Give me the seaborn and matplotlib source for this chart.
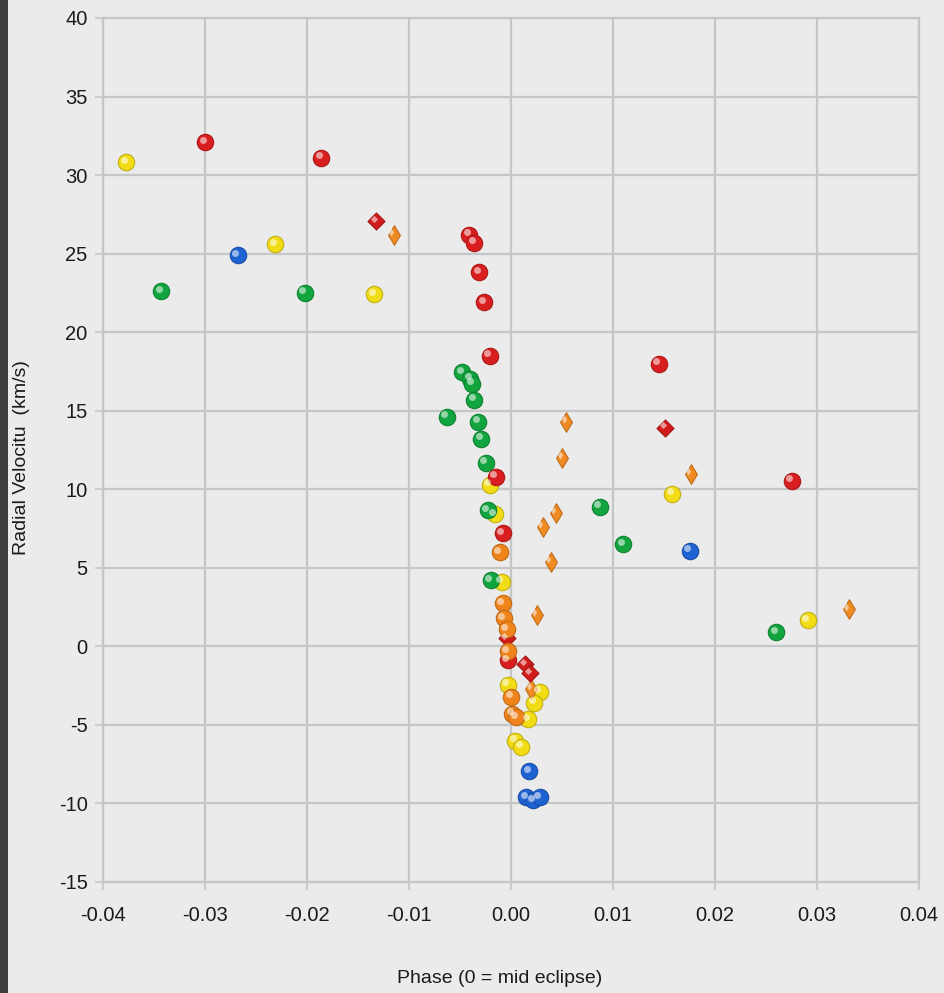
import numpy as np
import pandas as pd
import matplotlib
matplotlib.use("Agg")
import matplotlib.pyplot as plt
import matplotlib.transforms as mtransforms
from matplotlib.patches import Rectangle
import seaborn as sns

plt.rcParams["axes.unicode_minus"] = False

# ---- data ----
yellow_x = [-0.0377, -0.0231, -0.0134, -0.0021, -0.0016, -0.0009, 0.0158, 0.0291,
            -0.0003, 0.0028, 0.0023, 0.0017, 0.0004, 0.0010]
yellow_y = [30.8, 25.6, 22.4, 10.3, 8.4, 4.1, 9.7, 1.65, -2.45, -2.9, -3.6, -4.65, -6.0, -6.4]

red_x = [-0.0300, -0.0186, -0.0041, -0.0036, -0.0031, -0.0026, -0.0021, -0.0015,
         -0.0008, -0.0003, 0.0145, 0.0275]
red_y = [32.1, 31.1, 26.2, 25.7, 23.8, 21.9, 18.5, 10.8, 7.2, -0.9, 18.0, 10.55]

red_d_x = [-0.0132, 0.0151, 0.0014, 0.0019, -0.0004]
red_d_y = [27.05, 13.9, -1.15, -1.7, 0.5]

blue_x = [-0.0268, 0.0175, 0.0018, 0.0015, 0.0022, 0.0028]
blue_y = [24.9, 6.1, -7.95, -9.6, -9.8, -9.6]

green_x = [-0.0343, -0.0202, -0.0048, -0.0040, -0.0038, -0.0036, -0.0063, -0.0032,
           -0.0029, -0.0025, -0.0023, -0.0020, 0.0087, 0.0110, 0.0260]
green_y = [22.6, 22.5, 17.45, 17.05, 16.7, 15.7, 14.6, 14.3, 13.2, 11.7, 8.65, 4.2, 8.9, 6.5, 0.9]

orange_x = [-0.0011, -0.0008, -0.0007, -0.0004, -0.0003, 0.0000, 0.0001, 0.0005]
orange_y = [6.0, 2.75, 1.8, 1.1, -0.3, -3.2, -4.3, -4.5]

orange_d_x = [-0.0115, 0.0054, 0.0050, 0.0176, 0.0044, 0.0031, 0.0039, 0.0025, 0.0331, 0.0020]
orange_d_y = [26.2, 14.3, 12.0, 11.0, 8.5, 7.6, 5.4, 2.0, 2.35, -2.7]

x_ticks = [-0.04, -0.03, -0.02, -0.01, 0.00, 0.01, 0.02, 0.03, 0.04]
x_ticklabels = ["-0.04", "-0.03", "-0.02", "-0.01", "0.00", "0.01", "0.02", "0.03", "0.04"]
y_ticks = [-15, -10, -5, 0, 5, 10, 15, 20, 25, 30, 35, 40]
y_ticklabels = ["-15", "-10", "-5", "0", "5", "10", "15", "20", "25", "30", "35", "40"]

# ---- styles ----
series = [
    ("yellow", yellow_x, yellow_y, "#f2dc16", "o", 140),
    ("green", green_x, green_y, "#12a43e", "o", 140),
    ("orange_d", orange_d_x, orange_d_y, "#f08a22", "d", 100),
    ("red", red_x, red_y, "#d81e1e", "o", 140),
    ("red_d", red_d_x, red_d_y, "#d21c1c", "D", 75),
    ("orange", orange_x, orange_y, "#f0841c", "o", 140),
    ("blue", blue_x, blue_y, "#1f62d2", "o", 140),
]

bg = "#ebebeb"
gridc = "#c6c6c6"
fam = ["Liberation Sans", "DejaVu Sans"]

fig = plt.figure(figsize=(9.45, 9.93), dpi=100)
fig.patch.set_facecolor(bg)
fig.patches.append(Rectangle((0, 0), 8 / 945, 1, transform=fig.transFigure,
                             facecolor="#3f3f3f", edgecolor="none", zorder=0))
ax = fig.add_axes([0.109, 0.1118, 0.8635, 0.8701])
ax.set_facecolor(bg)

for name, xs, ys, col, mk, s in series:
    df = pd.DataFrame({"x": xs, "y": ys})
    edge = matplotlib.colors.to_hex(np.array(matplotlib.colors.to_rgb(col)) * 0.8)
    sns.scatterplot(data=df, x="x", y="y", ax=ax, color=col, marker=mk, s=s,
                    edgecolor=edge, linewidth=0.8, zorder=3, legend=False)
    # glossy highlight to suggest the sphere look
    off = mtransforms.offset_copy(ax.transData, fig=fig, x=-1.8, y=1.8, units="points")
    ax.scatter(xs, ys, s=s * 0.18, marker=mk, color="white", alpha=0.55,
               linewidths=0, transform=off, zorder=4)

ax.set_xlim(-0.04, 0.04)
ax.set_ylim(-15, 40)
ax.set_xticks(x_ticks)
ax.set_xticklabels(x_ticklabels)
ax.set_yticks(y_ticks)
ax.set_yticklabels(y_ticklabels)

ax.grid(True, color=gridc, linewidth=1.6, zorder=0)
ax.set_axisbelow(True)
for sp in ax.spines.values():
    sp.set_color(gridc)
    sp.set_linewidth(1.6)

ax.tick_params(axis="both", length=6, width=1.2, color=gridc, labelsize=14.5,
               labelcolor="#1a1a1a", pad=5)
ax.tick_params(axis="x", pad=11)
for lab in ax.get_xticklabels() + ax.get_yticklabels():
    lab.set_family(fam)

ax.set_xlabel("Phase (0 = mid eclipse)", fontsize=14, color="#1a1a1a", family=fam)
ax.set_ylabel("Radial Velocitu  (km/s)", fontsize=14, color="#1a1a1a", family=fam)
ax.xaxis.set_label_coords((500 - 103) / 816, -0.102)
ax.yaxis.set_label_coords(-0.090, (882 - 458) / 864)

fig.savefig("out.png", dpi=100, facecolor=bg)
